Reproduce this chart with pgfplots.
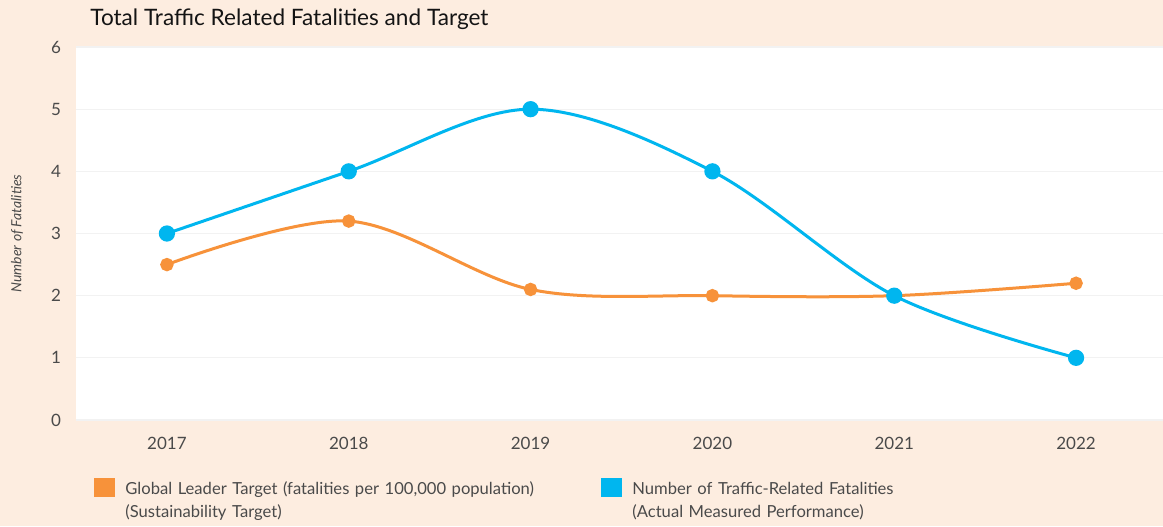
\documentclass[border=0pt]{standalone}
\usepackage{pgfplots}
\pgfplotsset{compat=1.18}
\usepackage{fontspec}
\setmainfont{Lato}
\definecolor{bg}{HTML}{FDEDE0}
\definecolor{orangeL}{HTML}{F7923A}
\definecolor{blueL}{HTML}{00B6EF}
\definecolor{gridc}{HTML}{F2F2F2}
\definecolor{txt}{HTML}{4A4A4A}
\begin{document}
\begin{tikzpicture}
\path[use as bounding box] (0pt,0pt) rectangle (581.5pt,263pt);
\fill[bg] (0pt,0pt) rectangle (581.5pt,263pt);
\node[anchor=base west, font=\fontsize{11.3}{13}\selectfont, text=black!92, inner sep=0pt] at (45pt,250pt) {Total Traffic Related Fatalities and Target};
\begin{scope}
\clip (0pt,0pt) rectangle (581.5pt,263pt);
\begin{axis}[
  at={(38pt,53pt)}, anchor=south west,
  scale only axis, width=545.5pt, height=186.5pt,
  xmin=-0.5, xmax=5.5, ymin=0, ymax=6,
  axis background/.style={fill=white},
  axis line style={draw=none},
  major tick length=0pt,
  xtick={0,1,2,3,4,5},
  xticklabels={2017,2018,2019,2020,2021,2022},
  ytick={0,1,2,3,4,5,6},
  ymajorgrids,
  major grid style={gridc, line width=0.6pt},
  /pgf/number format/assume math mode=true,
  tick label style={font=\fontsize{8.5}{10}\selectfont, text=txt},
  xticklabel style={yshift=-5pt},
  yticklabel style={xshift=-4pt},
  ylabel={Number of Fatalities},
  ylabel style={at={(axis description cs:0,0.5)}, anchor=center, yshift=29.5pt, font=\fontsize{7}{8}\selectfont\itshape, text=txt},
  legend columns=2,
  legend style={at={(axis description cs:0,0)}, anchor=north west, xshift=9pt, yshift=-29pt,
    draw=none, fill=none, inner sep=0pt,
    cells={anchor=base west},
    nodes={font=\fontsize{8.3}{11.5}\selectfont, text=txt, text width=230pt, align=left, inner xsep=0pt, inner ysep=0pt},
    /tikz/every odd column/.append style={column sep=5pt},
    /tikz/every even column/.append style={column sep=8pt}},
  legend image code/.code={\fill[#1] (0pt,-0.8pt) rectangle (9pt,7.2pt);},
]
\addplot[orangeL, line width=1.5pt, smooth, tension=0.55, mark=*, mark size=2.6pt,
  mark options={solid, fill=orangeL, draw=orangeL}] coordinates {
  (0,2.5) (1,3.2) (2,2.1) (3,2.0) (4,2.0) (5,2.2)};
\addlegendentry{Global Leader Target (fatalities per 100,000 population)\\(Sustainability Target)}
\addplot[blueL, line width=1.5pt, smooth, tension=0.55, mark=*, mark size=3.3pt,
  mark options={solid, fill=blueL, draw=blueL}] coordinates {
  (0,3) (1,4) (2,5) (3,4) (4,2) (5,1)};
\addlegendentry{Number of Traffic-Related Fatalities\\(Actual Measured Performance)}
\end{axis}
\end{scope}
\end{tikzpicture}
\end{document}
